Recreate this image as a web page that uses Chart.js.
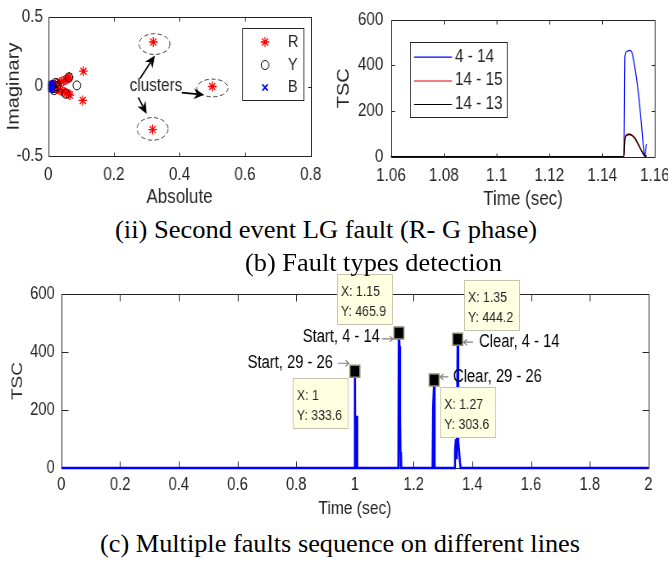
<!DOCTYPE html>
<html><head><meta charset="utf-8">
<script src="https://cdn.jsdelivr.net/npm/chart.js@4/dist/chart.umd.min.js"></script>
<style>
html,body{margin:0;padding:0;background:#fff;}
body{width:668px;height:562px;overflow:hidden;position:relative;}
canvas{position:absolute;transform-origin:0 0;}
.cap{position:absolute;white-space:nowrap;font-family:'Liberation Serif','Times New Roman',Times,serif;font-size:25px;line-height:26px;color:#000;transform-origin:0 0;}
</style></head><body>
<canvas id="c1"></canvas><canvas id="c2"></canvas><canvas id="c3"></canvas>
<div class="cap" id="cap1">(ii) Second event LG fault (R- G phase)</div>
<div class="cap" id="cap2">(b) Fault types detection</div>
<div class="cap" id="cap3">(c) Multiple faults sequence on different lines</div>
<script>
// ---------------- DATA ----------------
const rAbs  = [0.320, 0.500, 0.318, 0.107, 0.105, 0.064, 0.062, 0.057, 0.052, 0.046, 0.040, 0.034, 0.028, 0.022, 0.017, 0.012, 0.055, 0.049, 0.043, 0.037, 0.031, 0.025, 0.019, 0.014, 0.062, 0.066];
const rImag = [0.320, 0.000, -0.310, 0.110, -0.100, 0.068, 0.062, 0.052, 0.046, 0.040, 0.034, 0.028, 0.022, 0.016, 0.010, 0.005, -0.045, -0.040, -0.034, -0.028, -0.022, -0.016, -0.010, -0.004, -0.056, -0.062];
const yAbs  = [0.063, 0.087, 0.053, 0.022, 0.018, 0.012, 0.016, 0.026, 0.008];
const yImag = [0.066, 0.008, -0.052, 0.026, -0.026, 0.012, -0.012, 0.002, 0.000];
const bAbs  = [0.002, 0.004, 0.006, 0.008, 0.010, 0.012, 0.003, 0.005, 0.007, 0.009, 0.011, 0.004, 0.006, 0.008];
const bImag = [0.000, 0.012, -0.010, 0.018, -0.016, 0.006, -0.020, 0.024, 0.004, -0.006, 0.014, -0.028, -0.002, 0.010];
const clusterEllipses = [[0.3238, 0.305, 0.0473, 0.0745], [0.5006, -0.0106, 0.0473, 0.0638], [0.3177, -0.305, 0.0473, 0.0816]];
const clusterArrows = [[0.2796, 0.058, 0.325, 0.223], [0.4067, -0.044, 0.4747, -0.060], [0.2744, -0.079, 0.300, -0.197]];
const clusterText = {text: 'clusters', x: 0.328, y: 0.0035};

const trTime = [1.06, 1.1482, 1.1486, 1.1492, 1.1503, 1.1512, 1.1524, 1.1537, 1.1550, 1.1558, 1.1562, 1.1566, 1.1568];
const tsc4_14  = [0, 0, 440, 460, 466, 458, 389, 278, 125, 21, 3, 42, 55];
const tsc14_15 = [0, 0, 80, 96, 100, 96, 82, 55, 25, 8, 2, 4, 6];
const tsc14_13 = [0, 0, 78, 93, 97, 93, 79, 52, 23, 7, 1, 3, 5];
const trLabels = ['4 - 14', '14 - 15', '14 - 13'];

const bTime = [0, 0.998, 1.0, 1.0015, 1.005, 1.0065, 1.008, 1.148, 1.1495, 1.1503, 1.152, 1.154, 1.156, 1.157, 1.158, 1.2645, 1.2665, 1.27, 1.2715, 1.339, 1.341, 1.344, 1.347, 1.35, 1.352, 1.355, 1.358, 1.36, 2.0];
const bTSC  = [0, 0, 333.6, 0, 0, 180, 0, 0, 460, 465.9, 420, 170, 3, 55, 0, 0, 210, 303.6, 0, 0, 60, 100, 30, 444.2, 90, 60, 20, 0, 0];
const tipX = [1, 1.15, 1.27, 1.35];
const tipY = [333.6, 465.9, 303.6, 444.2];
const tipLabels = ['Start, 29 - 26', 'Start, 4 - 14', 'Clear, 29 - 26', 'Clear, 4 - 14'];

// ---------------- LAYOUT ----------------
const S_TOP = 0.85, S_BOT = 0.82;
const FONT = "'Liberation Sans', Arial, Helvetica, sans-serif";
const INK = '#262626';
Chart.defaults.font.family = FONT;
Chart.defaults.color = INK;
const fmt = v => String(+Number(v).toFixed(4));

function setupCanvas(id, left, top, w, h, s) {
  const c = document.getElementById(id);
  c.width = w; c.height = h;
  c.style.width = w + 'px'; c.style.height = h + 'px';
  c.style.left = left + 'px'; c.style.top = top + 'px';
  c.style.transform = 'scaleX(' + s + ')';
  return c;
}

function boxTicks(hook, lenX, lenY) {
  return { id: 'boxTicks', [hook]: (chart) => {
    const {ctx, chartArea: a, scales: {x, y}} = chart;
    ctx.save(); ctx.strokeStyle = INK; ctx.lineWidth = 1;
    const L = Math.round(a.left) + 0.5, R = Math.round(a.right) + 0.5, T = Math.round(a.top) + 0.5, B = Math.round(a.bottom) + 0.5;
    ctx.beginPath(); ctx.rect(L, T, R - L, B - T);
    x.ticks.forEach(t => { const p = Math.round(x.getPixelForValue(t.value)) + 0.5; ctx.moveTo(p, B); ctx.lineTo(p, B - lenX); ctx.moveTo(p, T); ctx.lineTo(p, T + lenX); });
    y.ticks.forEach(t => { const p = Math.round(y.getPixelForValue(t.value)) + 0.5; ctx.moveTo(L, p); ctx.lineTo(L + lenY, p); ctx.moveTo(R, p); ctx.lineTo(R - lenY, p); });
    ctx.stroke(); ctx.restore();
  }};
}

function drawMarker(ctx, style, x, y, r) {
  ctx.beginPath();
  if (style === 'circle') ctx.arc(x, y, r, 0, Math.PI * 2);
  else if (style === 'star') { for (let k = 0; k < 4; k++) { const a = k * Math.PI / 4; ctx.moveTo(x - r * Math.cos(a), y - r * Math.sin(a)); ctx.lineTo(x + r * Math.cos(a), y + r * Math.sin(a)); } }
  else { const d = r * Math.SQRT1_2; ctx.moveTo(x - d, y - d); ctx.lineTo(x + d, y + d); ctx.moveTo(x - d, y + d); ctx.lineTo(x + d, y - d); }
  ctx.stroke();
}

function drawArrow(ctx, x1, y1, x2, y2, len, half) {
  const ang = Math.atan2(y2 - y1, x2 - x1), c = Math.cos(ang), s = Math.sin(ang);
  const bx = x2 - len * c, by = y2 - len * s, nx = x2 - len * 0.7 * c, ny = y2 - len * 0.7 * s;
  ctx.beginPath(); ctx.moveTo(x1, y1); ctx.lineTo(nx, ny); ctx.stroke();
  ctx.beginPath(); ctx.moveTo(x2, y2); ctx.lineTo(bx + half * s, by - half * c); ctx.lineTo(nx, ny); ctx.lineTo(bx - half * s, by + half * c); ctx.closePath(); ctx.fill();
}

const common = { animation: false, responsive: false, devicePixelRatio: 1, events: [],
  plugins: { legend: { display: false }, tooltip: { enabled: false } } };

function axis(opts) {
  return Object.assign({ type: 'linear', grid: { display: false, drawTicks: false }, border: { display: false } }, opts);
}

// ---------------- CHART 1 ----------------
const W1 = 388, H1 = 214;
const c1 = setupCanvas('c1', 0, 0, W1, H1, S_TOP);
const pts = (xs, ys) => xs.map((v, i) => ({ x: v, y: ys[i] }));
new Chart(c1, {
  type: 'scatter',
  data: { datasets: [
    { label: 'R', data: pts(rAbs, rImag), pointStyle: 'star', pointRadius: 5, pointBorderColor: '#ff0000', pointBackgroundColor: '#ff0000', pointBorderWidth: 1.3, order: 3 },
    { label: 'Y', data: pts(yAbs, yImag), pointStyle: 'circle', pointRadius: 4.5, pointBorderColor: '#000000', pointBackgroundColor: 'rgba(0,0,0,0)', pointBorderWidth: 1, order: 2 },
    { label: 'B', data: pts(bAbs, bImag), pointStyle: 'crossRot', pointRadius: 4.5, pointBorderColor: '#0000ff', pointBackgroundColor: '#0000ff', pointBorderWidth: 1.6, order: 1 }
  ]},
  options: Object.assign({}, common, {
    layout: { padding: { left: 0, top: 15, right: W1 - 310.7 / S_TOP, bottom: 0 } },
    scales: {
      x: axis({ min: 0, max: 0.8, ticks: { stepSize: 0.2, padding: 8.2, font: { size: 18 }, maxRotation: 0, autoSkip: false, callback: fmt },
        title: { display: true, text: 'Absolute', font: { size: 20 }, padding: { top: 0, bottom: 4.5 } }, afterFit: s => { s.height = H1 - 156; } }),
      y: axis({ min: -0.5, max: 0.5, ticks: { stepSize: 0.5, padding: 6.2, font: { size: 18 }, callback: fmt },
        title: { display: true, text: 'Imaginary', font: { size: 20 }, padding: { top: 4.5, bottom: 0 } }, afterFit: s => { s.width = 48.3 / S_TOP; } })
    }
  }),
  plugins: [boxTicks('afterDraw', 4, 4), {
    id: 'clusters', afterDraw(chart) {
      const {ctx, scales: {x, y}} = chart;
      ctx.save();
      ctx.strokeStyle = '#404040'; ctx.lineWidth = 1; ctx.setLineDash([5, 3]);
      clusterEllipses.forEach(([cx, cy, rx, ry]) => {
        const px = x.getPixelForValue(cx), py = y.getPixelForValue(cy);
        ctx.beginPath();
        ctx.ellipse(px, py, Math.abs(x.getPixelForValue(cx + rx) - px), Math.abs(y.getPixelForValue(cy + ry) - py), 0, 0, Math.PI * 2);
        ctx.stroke();
      });
      ctx.setLineDash([]);
      ctx.strokeStyle = '#000'; ctx.fillStyle = '#000'; ctx.lineWidth = 1.6;
      clusterArrows.forEach(([a, b, c, d]) => drawArrow(ctx, x.getPixelForValue(a), y.getPixelForValue(b), x.getPixelForValue(c), y.getPixelForValue(d), 12, 5.5));
      ctx.font = '18px ' + FONT; ctx.fillStyle = INK; ctx.textAlign = 'center'; ctx.textBaseline = 'middle';
      ctx.fillText(clusterText.text, x.getPixelForValue(clusterText.x), y.getPixelForValue(clusterText.y));
      const lx = 242 / S_TOP, rx2 = 303.5 / S_TOP, ty = 28, by = 100;
      ctx.fillStyle = '#fff'; ctx.fillRect(lx, ty, rx2 - lx, by - ty);
      ctx.strokeStyle = INK; ctx.lineWidth = 1; ctx.strokeRect(Math.round(lx) + 0.5, ty + 0.5, Math.round(rx2 - lx), by - ty);
      const rows = [42, 65, 87.5];
      chart.data.datasets.forEach((ds, i) => {
        ctx.strokeStyle = ds.pointBorderColor; ctx.lineWidth = ds.pointBorderWidth;
        drawMarker(ctx, ds.pointStyle, 265 / S_TOP, rows[i], ds.pointRadius);
        ctx.fillStyle = INK; ctx.font = '17px ' + FONT; ctx.textAlign = 'left';
        ctx.fillText(ds.label, 288 / S_TOP, rows[i]);
      });
      ctx.restore();
    }
  }]
});

// ---------------- CHART 2 ----------------
const W2 = 412, H2 = 214;
const c2 = setupCanvas('c2', 330, 0, W2, H2, S_TOP);
const trColors = ['#0000ff', '#e00000', '#000000'];
const trSeries = [tsc4_14, tsc14_15, tsc14_13];
new Chart(c2, {
  type: 'line',
  data: { datasets: trSeries.map((ser, i) => ({ label: trLabels[i], data: pts(trTime, ser), borderColor: trColors[i], borderWidth: 1.2, pointRadius: 0, cubicInterpolationMode: 'monotone', clip: false, order: 3 - i })) },
  options: Object.assign({}, common, {
    layout: { padding: { left: 0, top: 12.7, right: W2 - 325 / S_TOP, bottom: 0 } },
    scales: {
      x: axis({ min: 1.06, max: 1.16, ticks: { stepSize: 0.02, padding: 8.2, font: { size: 18 }, maxRotation: 0, autoSkip: false, callback: fmt },
        title: { display: true, text: 'Time (sec)', font: { size: 20 }, padding: { top: 0, bottom: 3 } }, afterFit: s => { s.height = H2 - 156.7; } }),
      y: axis({ min: 0, max: 600, ticks: { stepSize: 200, padding: 9, font: { size: 18 }, callback: fmt },
        title: { display: true, text: 'TSC', font: { size: 20 }, padding: { top: 4.5, bottom: 0 } }, afterFit: s => { s.width = 61 / S_TOP; } })
    }
  }),
  plugins: [boxTicks('beforeDatasetsDraw', 4, 4), {
    id: 'legendBox', afterDraw(chart) {
      const {ctx} = chart;
      ctx.save();
      const lx = 80 / S_TOP, rx2 = 177 / S_TOP, ty = 42, by = 117;
      ctx.fillStyle = '#fff'; ctx.fillRect(lx, ty, rx2 - lx, by - ty);
      ctx.strokeStyle = INK; ctx.lineWidth = 1; ctx.strokeRect(Math.round(lx) + 0.5, ty + 0.5, Math.round(rx2 - lx), by - ty);
      const rows = [56.7, 80.5, 104];
      chart.data.datasets.forEach((ds, i) => {
        ctx.strokeStyle = ds.borderColor; ctx.lineWidth = 1.2;
        ctx.beginPath(); ctx.moveTo(84 / S_TOP, rows[i] + 0.5); ctx.lineTo(122 / S_TOP, rows[i] + 0.5); ctx.stroke();
        ctx.fillStyle = INK; ctx.font = '18px ' + FONT; ctx.textAlign = 'left'; ctx.textBaseline = 'middle';
        ctx.fillText(ds.label, 125 / S_TOP, rows[i]);
      });
      ctx.restore();
    }
  }]
});

// ---------------- CHART 3 ----------------
const W3 = 815, H3 = 260;
const c3 = setupCanvas('c3', 0, 270, W3, H3, S_BOT);
const tipBoxOffset = [[-62, 7], [-62, -59], [6, 7], [6.4, -59]];
const tipLabelLayout = [
  { align: 'right', tx: -22, ty: -8, a1: -17, a2: -6, ay: -8 },
  { align: 'right', tx: -19, ty: 4, a1: -17, a2: -6, ay: 6 },
  { align: 'left', tx: 19, ty: -3, a1: 14, a2: 6, ay: -3 },
  { align: 'left', tx: 21.4, ty: 3, a1: 15.4, a2: 6, ay: 3 }
];
new Chart(c3, {
  type: 'line',
  data: { datasets: [
    { type: 'scatter', label: 'tips', data: pts(tipX, tipY), pointStyle: 'rect', pointRadius: 8.5, pointBackgroundColor: '#000', pointBorderColor: '#8e8e70', pointBorderWidth: 1.5, order: 0, clip: false },
    { label: 'TSC', data: pts(bTime, bTSC), borderColor: '#0000ff', borderWidth: 2.5, pointRadius: 0, tension: 0, clip: false, order: 1 }
  ]},
  options: Object.assign({}, common, {
    layout: { padding: { left: 0, top: 24, right: W3 - 648.4 / S_BOT, bottom: 0 } },
    scales: {
      x: axis({ min: 0, max: 2, ticks: { stepSize: 0.2, padding: 6.2, font: { size: 18 }, maxRotation: 0, autoSkip: false, callback: fmt },
        title: { display: true, text: 'Time (sec)', font: { size: 19 }, padding: { top: 0, bottom: 10 } }, afterFit: s => { s.height = H3 - 198; } }),
      y: axis({ min: 0, max: 600, ticks: { stepSize: 200, padding: 8, font: { size: 18 }, callback: fmt },
        title: { display: true, text: 'TSC', font: { size: 19 }, padding: { top: 10.6, bottom: 0 } }, afterFit: s => { s.width = 61.4 / S_BOT; } })
    }
  }),
  plugins: [boxTicks('beforeDatasetsDraw', 7, 8), {
    id: 'dataTips', afterDatasetsDraw(chart) {
      const {ctx, scales: {x, y}} = chart;
      ctx.save();
      tipX.forEach((tx, i) => {
        const px = x.getPixelForValue(tx), py = y.getPixelForValue(tipY[i]);
        const [bx, by] = tipBoxOffset[i];
        const left = px + bx / S_BOT, top = py + by, w = 55 / S_BOT, h = 50;
        ctx.fillStyle = '#ffffe1'; ctx.fillRect(left, top, w, h);
        ctx.strokeStyle = '#c4c4ac'; ctx.lineWidth = 1; ctx.strokeRect(Math.round(left) + 0.5, Math.round(top) + 0.5, Math.round(w), h);
        ctx.fillStyle = INK; ctx.font = '15px ' + FONT; ctx.textAlign = 'left'; ctx.textBaseline = 'middle';
        ctx.fillText('X: ' + tx, left + 4 / S_BOT, top + 18);
        ctx.fillText('Y: ' + tipY[i].toFixed(1), left + 4 / S_BOT, top + 38);
        const L = tipLabelLayout[i];
        ctx.fillStyle = '#000'; ctx.font = '18px ' + FONT; ctx.textAlign = L.align;
        ctx.fillText(tipLabels[i], px + L.tx / S_BOT, py + L.ty);
        ctx.strokeStyle = '#808080'; ctx.lineWidth = 1.2;
        const ax1 = px + L.a1 / S_BOT, ax2 = px + L.a2 / S_BOT, ay = py + L.ay;
        const dir = Math.sign(ax2 - ax1);
        ctx.beginPath(); ctx.moveTo(ax1, ay); ctx.lineTo(ax2, ay);
        ctx.moveTo(ax2 - dir * 4, ay - 3); ctx.lineTo(ax2, ay); ctx.lineTo(ax2 - dir * 4, ay + 3);
        ctx.stroke();
      });
      ctx.restore();
    }
  }]
});

// ---------------- CAPTIONS ----------------
function fitCaption(id, left, width, centerY) {
  const el = document.getElementById(id);
  const w = el.getBoundingClientRect().width;
  el.style.left = left + 'px';
  el.style.top = (centerY - 14.9) + 'px';
  el.style.transform = 'scaleX(' + (width / w) + ')';
}
fitCaption('cap1', 115, 422, 232);
fitCaption('cap2', 245, 257, 265);
fitCaption('cap3', 100, 480, 546);
</script>
</body></html>
